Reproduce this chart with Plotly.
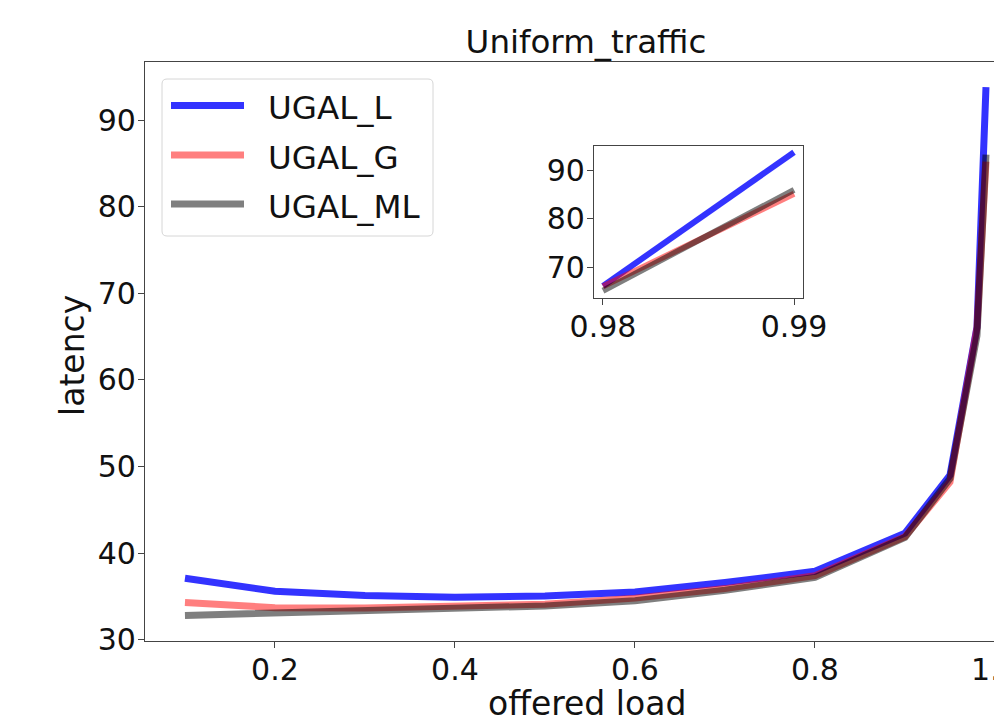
import plotly.graph_objects as go

# ---- data ----
offered_load = [0.1, 0.2, 0.3, 0.4, 0.5, 0.6, 0.7, 0.8, 0.9, 0.95, 0.98, 0.99]
ugal_l = [37.1, 35.6, 35.1, 34.9, 35.05, 35.5, 36.6, 37.9, 42.3, 49.0, 66.1, 93.8]
ugal_g = [34.3, 33.7, 33.65, 33.85, 34.1, 34.8, 35.9, 37.4, 41.9, 48.2, 66.0, 85.2]
ugal_ml = [32.8, 33.1, 33.3, 33.5, 33.9, 34.5, 35.7, 37.2, 41.8, 48.6, 65.1, 86.0]
series_names = ["UGAL_L", "UGAL_G", "UGAL_ML"]
x_ticks = [0.2, 0.4, 0.6, 0.8, 1.0]
y_ticks = [30, 40, 50, 60, 70, 80, 90]
inset_x_ticks = [0.98, 0.99]
inset_y_ticks = [70, 80, 90]

colors = ["rgba(0,0,255,0.8)", "rgba(255,0,0,0.5)", "rgba(0,0,0,0.5)"]
series = [ugal_l, ugal_g, ugal_ml]

FONT = "DejaVu Sans"
OFF = 8  # page body margin offset
W, H = 1002 - OFF, 720 - OFF
L, R, T, B = 145 - OFF, 0, 62 - OFF, 79
PW, PH = W - L - R, H - T - B


def px(x):
    # x given in screen pixels
    return (x - OFF - L) / PW


def py(y):
    # y given in screen pixels
    return (H - B - (y - OFF)) / PH


fig = go.Figure()

for i, (name, ys) in enumerate(zip(series_names, series)):
    fig.add_trace(go.Scatter(
        x=offered_load, y=ys, mode="lines", name=name,
        line=dict(color=colors[i], width=7), showlegend=False,
        xaxis="x", yaxis="y",
    ))

for i, (name, ys) in enumerate(zip(series_names, series)):
    fig.add_trace(go.Scatter(
        x=offered_load[-2:], y=ys[-2:], mode="lines", name=name,
        line=dict(color=colors[i], width=6), showlegend=False,
        xaxis="x2", yaxis="y2",
    ))

axis_common = dict(
    showline=True, linecolor="#444", linewidth=1.3,
    ticks="outside", ticklen=6, tickwidth=1.3, tickcolor="#444",
    showgrid=False, zeroline=False, automargin=False,
    ticklabeloverflow="allow",
    tickfont=dict(family=FONT, size=30, color="#111"),
)

# ---- manual legend (box, swatches, labels) ----
shapes = []
annotations = []
box_l, box_r, box_t, box_b = 162, 433, 79, 236
rad = 5
path = (f"M {px(box_l + rad)},{py(box_t)} L {px(box_r - rad)},{py(box_t)} "
        f"Q {px(box_r)},{py(box_t)} {px(box_r)},{py(box_t + rad)} "
        f"L {px(box_r)},{py(box_b - rad)} Q {px(box_r)},{py(box_b)} {px(box_r - rad)},{py(box_b)} "
        f"L {px(box_l + rad)},{py(box_b)} Q {px(box_l)},{py(box_b)} {px(box_l)},{py(box_b - rad)} "
        f"L {px(box_l)},{py(box_t + rad)} Q {px(box_l)},{py(box_t)} {px(box_l + rad)},{py(box_t)} Z")
shapes.append(dict(type="path", path=path, xref="paper", yref="paper",
                   fillcolor="rgba(255,255,255,0.8)", line=dict(color="#d6d6d6", width=1)))
row_y = [105.5, 155, 204]
for i, name in enumerate(series_names):
    shapes.append(dict(type="line", xref="paper", yref="paper",
                       x0=px(171), x1=px(244), y0=py(row_y[i]), y1=py(row_y[i]),
                       line=dict(color=colors[i], width=7)))
    annotations.append(dict(text=name, xref="paper", yref="paper", x=px(266), y=py(row_y[i] + 3),
                            xanchor="left", yanchor="middle", showarrow=False,
                            font=dict(family=FONT, size=32.5, color="#111")))

# axis titles
annotations.append(dict(text="offered load", xref="paper", yref="paper",
                        x=px(587), y=py(703), xanchor="center", yanchor="middle", showarrow=False,
                        font=dict(family=FONT, size=33, color="#111")))
annotations.append(dict(text="latency", xref="paper", yref="paper", textangle=-90,
                        x=px(72), y=py(356), xanchor="center", yanchor="middle", showarrow=False,
                        font=dict(family=FONT, size=33, color="#111")))

fig.update_layout(
    width=W, height=H,
    margin=dict(l=L, r=R, t=T, b=B, autoexpand=False),
    paper_bgcolor="white", plot_bgcolor="white",
    font=dict(family=FONT, color="#111"),
    title=dict(text="Uniform_traffic", x=(586 - OFF) / W, xref="container", xanchor="center",
               y=1 - (42 - OFF) / H, yref="container", yanchor="middle",
               font=dict(family=FONT, size=32.5, color="#111")),
    xaxis=dict(range=[0.0556, 1.0078], tickvals=x_ticks, tickformat=".1f",
               mirror=True, ticklabelstandoff=-4, **axis_common),
    yaxis=dict(range=[29.85, 96.7], tickvals=y_ticks, ticklabelstandoff=-4, **axis_common),
    xaxis2=dict(domain=[px(594), px(803)], anchor="y2", range=[0.97953, 0.99047],
                tickvals=inset_x_ticks, tickformat=".2f", mirror=True, ticklabelstandoff=-4,
                **axis_common),
    yaxis2=dict(domain=[py(298), py(146)], anchor="x2", range=[63.6, 95.1],
                tickvals=inset_y_ticks, mirror=True, ticklabelstandoff=-4, **axis_common),
    shapes=shapes,
    annotations=annotations,
    showlegend=False,
)

fig.write_html("out.html")
